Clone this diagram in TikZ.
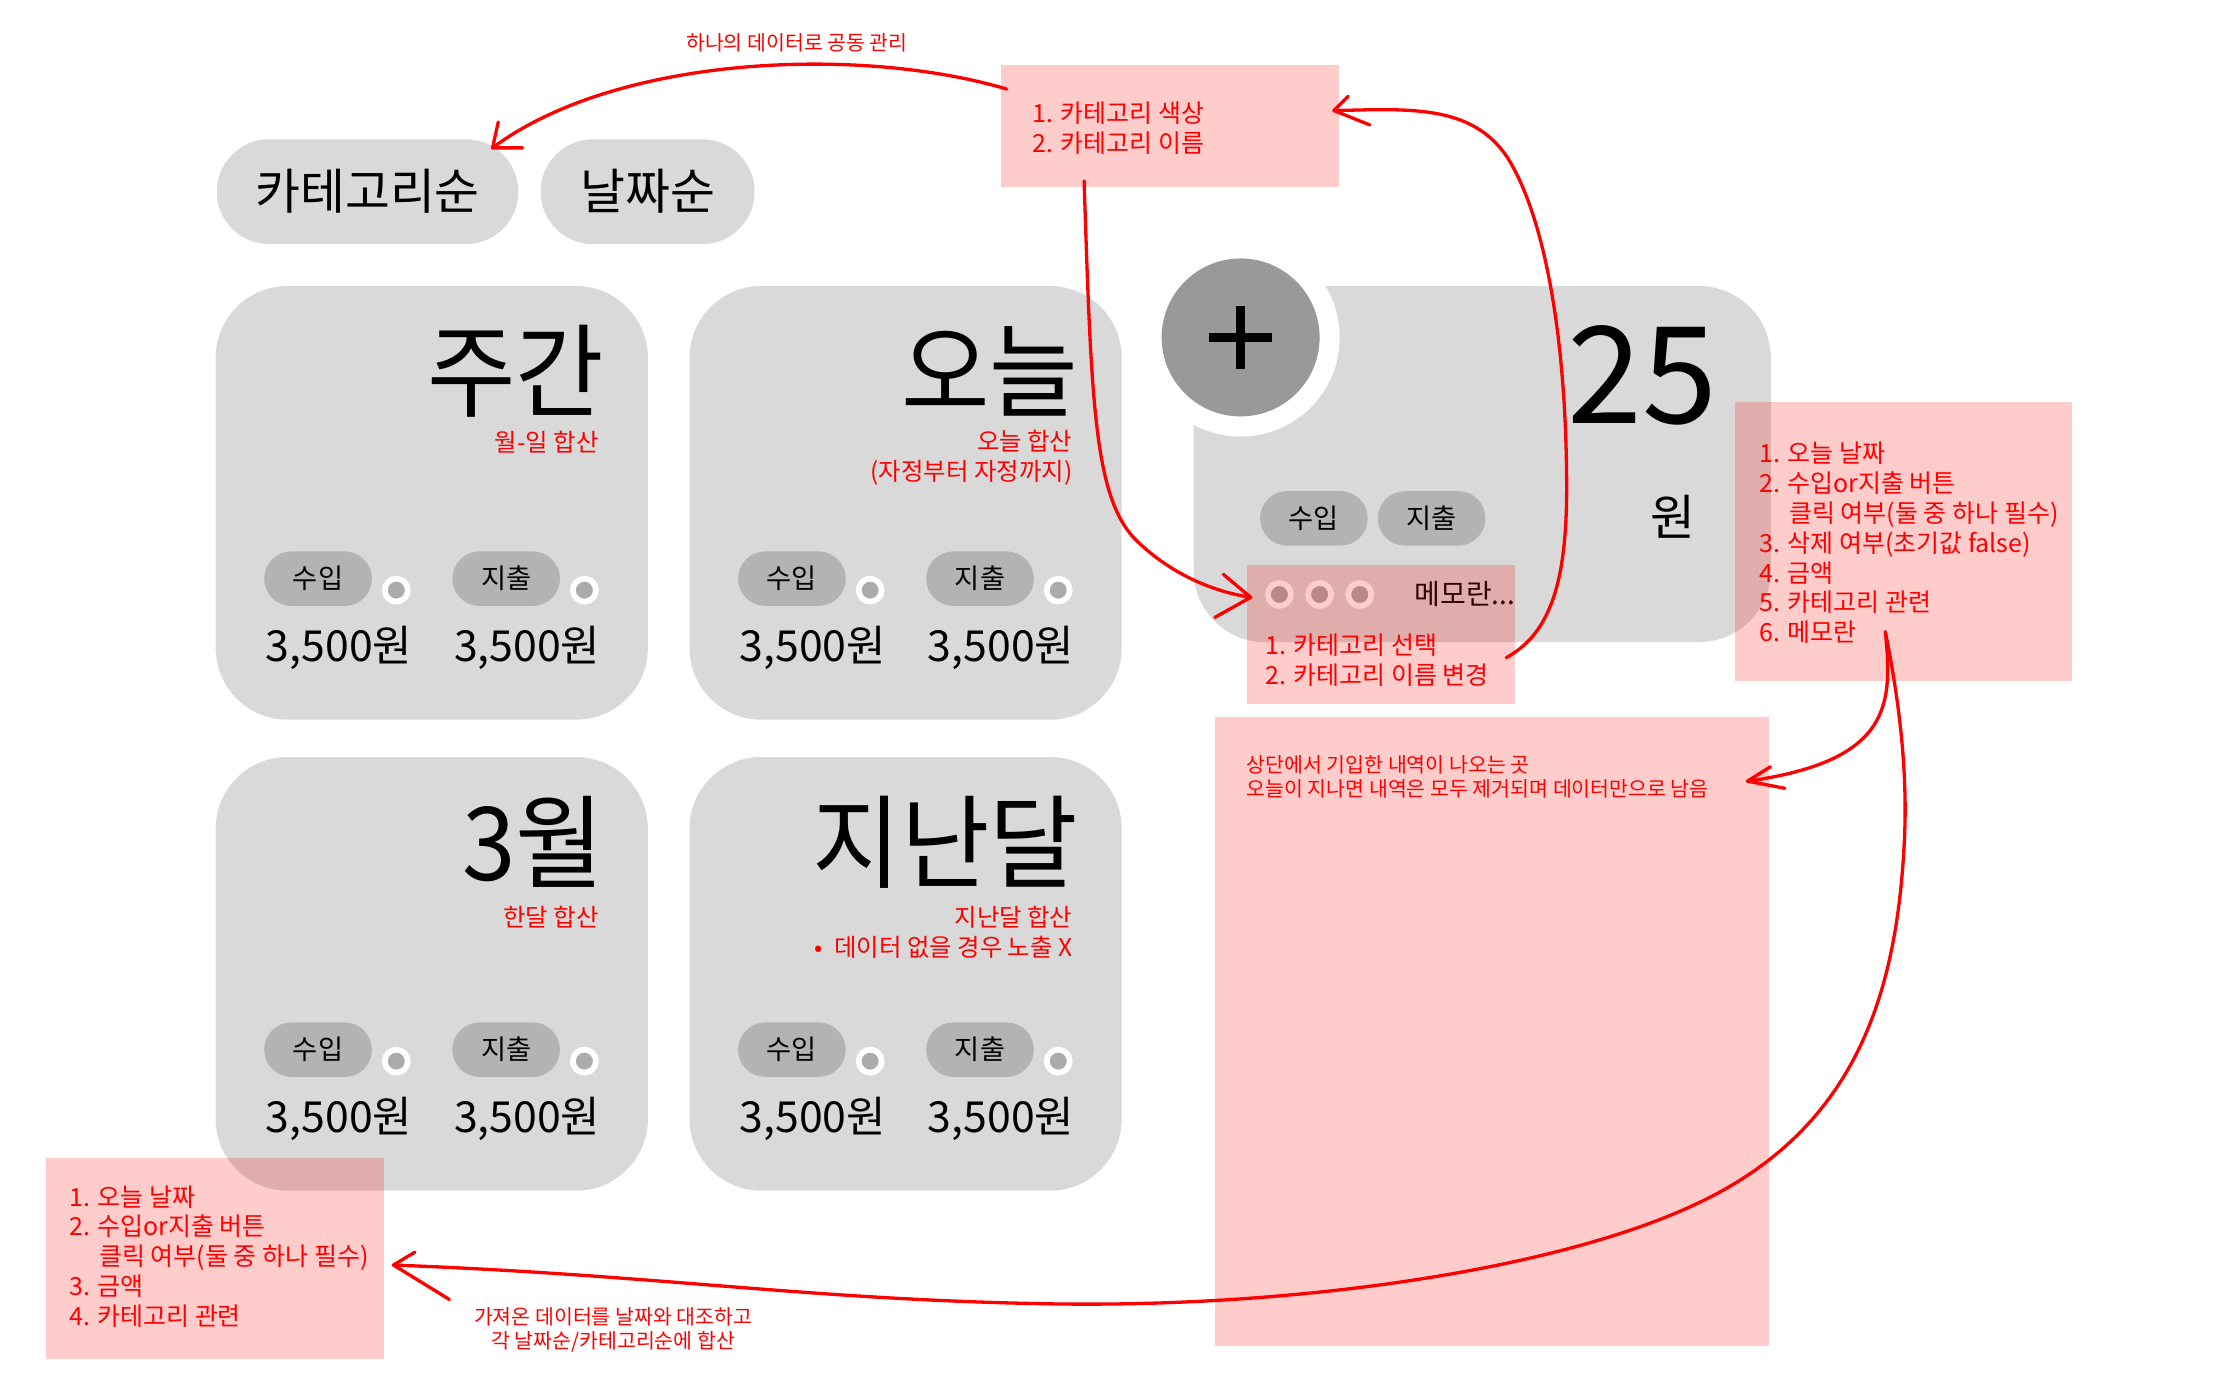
\documentclass[tikz,border=0pt]{standalone}
\usepackage{fontspec}
\setmainfont{Noto Sans CJK KR}
\usepackage{graphicx}
\usetikzlibrary{calc}
\definecolor{cardgray}{HTML}{D9D9D9}
\definecolor{pillgray}{HTML}{B3B3B3}
\definecolor{btngray}{HTML}{999999}
\definecolor{togglegray}{HTML}{ABABAB}
\definecolor{myred}{HTML}{FF0000}
\tikzset{
  cardbox/.style={fill=cardgray, rounded corners=50pt, inner sep=0pt, minimum width=301pt, minimum height=302pt, anchor=north west},
  bigpill/.style={fill=cardgray, rounded corners=36.5pt, inner sep=0pt, minimum height=73pt, font=\fontsize{34}{40}\selectfont},
  pillsm/.style={fill=pillgray, rounded corners=19pt, minimum width=75pt, minimum height=38pt, inner sep=0pt, font=\fontsize{19}{23}\selectfont},
  toggle/.style={circle, fill=togglegray, draw=white, line width=4pt, minimum size=16pt, inner sep=0pt},
  cardtitle/.style={anchor=base east, inner sep=0pt, font=\fontsize{67}{78}\selectfont},
  cardsub/.style={text=myred, align=right, anchor=east, inner sep=0pt, font=\fontsize{17}{21}\selectfont},
  amount/.style={anchor=west, inner sep=0pt, font=\fontsize{29.8}{34}\selectfont},
  note/.style={text=myred, align=left, anchor=west, inner sep=0pt, font=\fontsize{17.4}{20.8}\selectfont},
  tinynote/.style={text=myred, inner sep=0pt, font=\fontsize{14.3}{16.5}\selectfont},
  pinkbox/.style={fill=myred, fill opacity=0.2, inner sep=0pt, anchor=north west},
  redline/.style={draw=myred, line width=2.3pt, line cap=round, line join=round},
}
\newcommand\mycard[6]{%
  \node[cardbox] (#1) at (#2,#3) {};
  \node[cardtitle] (#1-title) at (#2+271,#3+86) {\scalebox{1}[1.06]{#4}};
  \node[cardsub] (#1-sub) at (#2+267,#3+#6) {#5};
  \node[pillsm] (#1-in) at (#2+71.5,#3+204) {수입};
  \node[pillsm] (#1-out) at (#2+202.5,#3+204) {지출};
  \node[toggle] (#1-tin) at (#2+126,#3+212) {};
  \node[toggle] (#1-tout) at (#2+257,#3+212) {};
  \node[amount] (#1-ain) at (#2+35,#3+252) {3,500원};
  \node[amount] (#1-aout) at (#2+166,#3+252) {3,500원};
}
\begin{document}
\begin{tikzpicture}[x=1pt,y=-1pt]
\useasboundingbox[fill=white] (0,0) rectangle (1560,972);

% sort pills
\node[bigpill, minimum width=210pt] (bycat) at (256,133.5) {카테고리순};
\node[bigpill, minimum width=149pt] (bydate) at (451,133.5) {날짜순};

% summary cards
\mycard{week}{150}{199}{주간}{월-일 합산}{109}
\mycard{today}{480}{199}{오늘}{오늘 합산\\(자정부터 자정까지)}{119.5}
\mycard{month}{150}{527}{3월}{한달 합산}{112}
\mycard{last}{480}{527}{지난달}{지난달 합산\\•\hspace{8pt}데이터 없을 경우 노출 X}{122.5}

% input card
\node[cardbox, minimum width=402pt, minimum height=248pt] (entry) at (831,199) {};
\node[circle, fill=white, minimum size=138pt, inner sep=0pt] (plusring) at (864,235) {};
\node[circle, fill=btngray, minimum size=110pt, inner sep=0pt] (plusbtn) at (864,235) {};
\draw[line width=6pt] ([xshift=-22pt]plusbtn.center) -- ([xshift=22pt]plusbtn.center);
\draw[line width=6pt] ([yshift=-22pt]plusbtn.center) -- ([yshift=22pt]plusbtn.center);
\node[anchor=base east, inner sep=0pt, font=\fontsize{94}{100}\selectfont] (day) at (1196,295) {25};
\node[inner sep=0pt, font=\fontsize{34}{40}\selectfont] (won) at (1165,360) {원};
\node[pillsm] (entry-in) at (915,361) {수입};
\node[pillsm] (entry-out) at (997,361) {지출};
\node[toggle] (c1) at (891,414) {};
\node[toggle] (c2) at (919,414) {};
\node[toggle] (c3) at (947,414) {};
\node[anchor=west, inner sep=0pt, font=\fontsize{19.5}{23}\selectfont] (memo) at (985,414) {메모란...};

% pink annotation boxes
\node[pinkbox, minimum width=235pt, minimum height=85pt] (boxcat) at (697,45) {};
\node[pinkbox, minimum width=187pt, minimum height=97pt] (boxmemo) at (868,393) {};
\node[pinkbox, minimum width=235pt, minimum height=194pt] (boxentry) at (1208,280) {};
\node[pinkbox, minimum width=386pt, minimum height=438pt] (boxlist) at (846,499) {};
\node[pinkbox, minimum width=235pt, minimum height=140pt] (boxsum) at (32,806) {};

\node[note] (tcat) at (719,89) {1. 카테고리 색상\\2. 카테고리 이름};
\node[note] (tmemo) at (881,460) {1. 카테고리 선택\\2. 카테고리 이름 변경};
\node[note] (tentry) at (1225,378) {1. 오늘 날짜\\2. 수입or지출 버튼\\\hspace*{21pt}클릭 여부(둘 중 하나 필수)\\3. 삭제 여부(초기값 false)\\4. 금액\\5. 카테고리 관련\\6. 메모란};
\node[tinynote, align=left, anchor=west] (tlist) at (868,541) {상단에서 기입한 내역이 나오는 곳\\오늘이 지나면 내역은 모두 제거되며 데이터만으로 남음};
\node[note] (tsum) at (48,875) {1. 오늘 날짜\\2. 수입or지출 버튼\\\hspace*{21pt}클릭 여부(둘 중 하나 필수)\\3. 금액\\4. 카테고리 관련};

\node[tinynote] (ltop) at (555,30) {하나의 데이터로 공동 관리};
\node[tinynote, align=center] (lbottom) at (427,926) {가져온 데이터를 날짜와 대조하고\\각 날짜순/카테고리순에 합산};

% connectors
\coordinate (a1s) at (701,62);
\coordinate (a1e) at (343,103);
\draw[redline] (a1s) .. controls (600,32) and (430,38) .. (a1e);
\draw[redline] (347,85) -- (a1e) -- (364,103);

\coordinate (a2s) at (755,126);
\coordinate (a2e) at (871,416);
\draw[redline] (a2s) .. controls (760,280) and (762,345) .. (790,375) .. controls (815,400) and (845,412) .. (a2e);
\draw[redline] (852,400) -- (a2e) -- (846,430);

\coordinate (a3s) at (1049,458);
\coordinate (a3e) at (929,77);
\draw[redline] (a3s) .. controls (1082,440) and (1092,400) .. (1091,330) .. controls (1090,230) and (1075,150) .. (1050,110) .. controls (1025,72) and (980,76) .. (a3e);
\draw[redline] (939,67) -- (a3e) -- (954,87);

\coordinate (a4s) at (1313,440);
\coordinate (a4e) at (1217,544);
\coordinate (a5e) at (274,881);
\draw[redline] (a4s) .. controls (1318,490) and (1318,530) .. (a4e);
\draw[redline] (1233,534) -- (a4e) -- (1243,549);
\draw[redline] (a4s) .. controls (1323,490) and (1329,540) .. (1326,590) .. controls (1320,700) and (1288,790) .. (1178,840) .. controls (1080,885) and (900,911) .. (730,908) .. controls (560,905) and (460,888) .. (a5e);
\draw[redline] (289,872) -- (a5e) -- (313,905);
\end{tikzpicture}
\end{document}
